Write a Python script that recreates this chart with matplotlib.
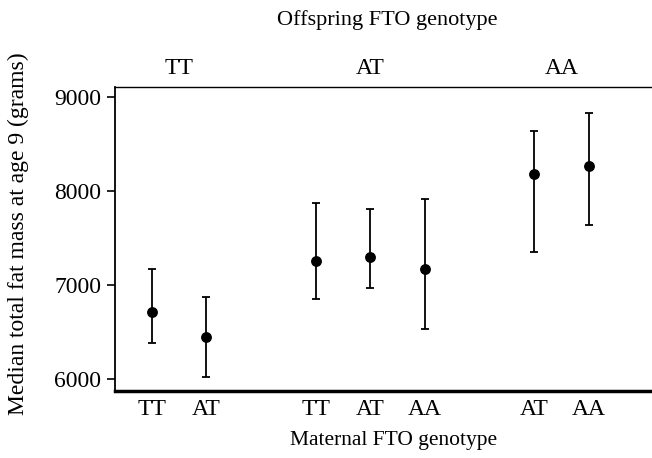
import matplotlib.pyplot as plt
import numpy as np

plt.rcParams['font.family'] = ['Liberation Serif', 'DejaVu Serif']

# 孫の遺伝子型 (offspring) ごとの母親の遺伝子型
maternal = ['TT', 'AT', 'TT', 'AT', 'AA', 'AT', 'AA']
offspring_groups = ['TT', 'AT', 'AA']
xpos = [1, 2, 4, 5, 6, 8, 9]
group_centres = [1.5, 5, 8.5]

median = [6716, 6444, 7259, 7301, 7167, 8184, 8266]
upper = [7170, 6869, 7872, 7805, 7918, 8638, 8833]
lower = [6380, 6024, 6854, 6968, 6532, 7348, 7635]

median = np.array(median)
yerr = [median - np.array(lower), np.array(upper) - median]

fig = plt.figure(figsize=(6.52, 4.58), dpi=100)
ax = fig.add_axes([115/652, 1-391/458, 1-115/652, (391-87)/458])

ax.errorbar(xpos, median, yerr=yerr, fmt='o', color='black', ms=6.8,
            elinewidth=1.3, capsize=3, capthick=1.3)

ax.set_xlim(0.33, 10.15)
ax.set_ylim(5872, 9106)
ax.set_yticks([6000, 7000, 8000, 9000])
ax.set_xticks(xpos)
ax.set_xticklabels(maternal, fontsize=17)
ax.tick_params(axis='x', length=0, pad=6)
ax.tick_params(axis='y', labelsize=17, length=6, width=1.2, direction='out', pad=4)

ax.spines['right'].set_visible(False)
ax.spines['top'].set_linewidth(1.0)
ax.spines['left'].set_linewidth(1.3)
ax.spines['bottom'].set_linewidth(2.5)

fig.text(18/652, 1-234/458, 'Median total fat mass at age 9 (grams)', rotation=90,
         ha='center', va='center', fontsize=17)
fig.text(394/652, 1-440/458, 'Maternal FTO genotype', ha='center', va='center',
         fontsize=15.5)

# 上側のグループ名
for c, g in zip(group_centres, offspring_groups):
    ax.text(c, 1.025, g, transform=ax.get_xaxis_transform(), ha='center',
            va='bottom', fontsize=17)
fig.text(387/652, 1-20/458, 'Offspring FTO genotype', ha='center', va='center',
         fontsize=16)

fig.savefig('out.png', dpi=100)
